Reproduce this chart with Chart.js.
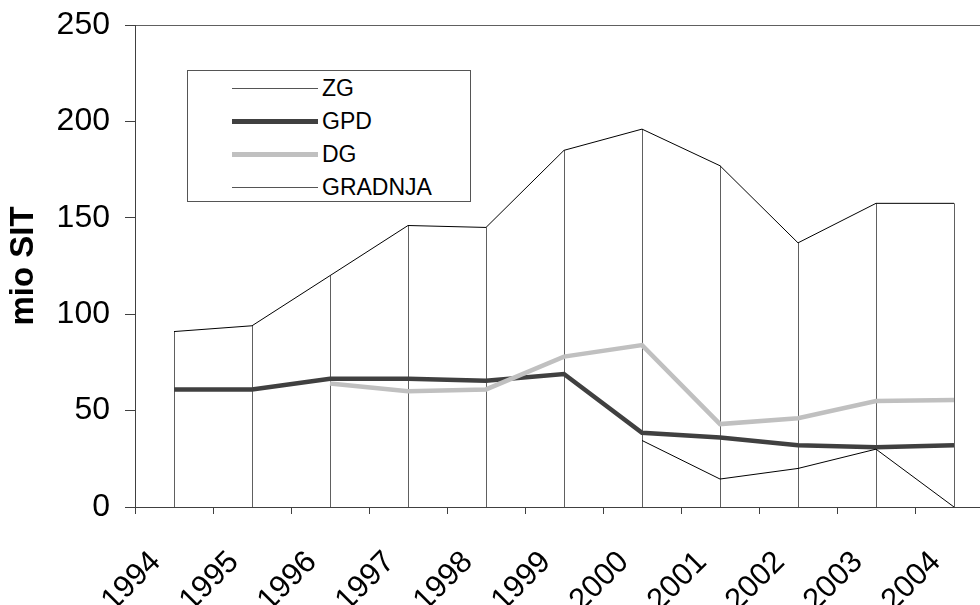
<!DOCTYPE html>
<html>
<head>
<meta charset="utf-8">
<script src="https://cdn.jsdelivr.net/npm/chart.js@4.4.1/dist/chart.umd.min.js"></script>
<style>
    html, body { margin: 0; padding: 0; background: #fff; overflow: hidden; }
    #wrap { position: relative; width: 1000px; height: 605px; }
    #legend {
        position: absolute; left: 187px; top: 70px; width: 284px; height: 132px;
        box-sizing: border-box; border: 1px solid #555; background: #fff;
        font-family: "Liberation Sans", Arial, sans-serif; font-size: 23px; color: #000;
    }
    #legend .row { position: absolute; left: 44px; height: 26px; display: flex; align-items: center; }
    #legend .swatch { width: 86px; margin-right: 4px; }
</style>
</head>
<body>
<div id="wrap">
    <canvas id="chart" width="1000" height="605"></canvas>
    <div id="legend"></div>
</div>
<script>
// Yearly values, mio SIT
const YEARS = ['1994', '1995', '1996', '1997', '1998', '1999', '2000', '2001', '2002', '2003', '2004'];
const ZG = [91, 94, 120, 146, 145, 185, 196, 177, 137, 157.5, 157.5];
const GPD = [61, 61, 66.5, 66.5, 65.5, 69, 38.5, 36, 32, 31, 32];
const DG = [null, null, 64, 60, 61, 78, 84, 43, 46, 55, 55.5];
const GRADNJA = [null, null, null, null, null, null, 34.5, 14.5, 20, 30, 0];

const Y_TICKS = [0, 50, 100, 150, 200, 250];

const FONT = '"Liberation Sans", Arial, sans-serif';
const AXIS_COLOR = '#404040';

// Vertical drop lines from the highest value of each year down to zero
const dropLines = {
    id: 'dropLines',
    beforeDatasetsDraw(chart) {
        const { ctx, scales: { x, y } } = chart;
        ctx.save();
        ctx.strokeStyle = '#606060';
        ctx.lineWidth = 1;
        YEARS.forEach((_, i) => {
            const vals = chart.data.datasets.map(d => d.data[i]).filter(v => v !== null);
            const top = Math.max(...vals);
            const px = Math.round(x.getPixelForValue(i)) + 0.5;
            ctx.beginPath();
            ctx.moveTo(px, y.getPixelForValue(top));
            ctx.lineTo(px, y.getPixelForValue(0));
            ctx.stroke();
        });
        ctx.restore();
    },
};

// Thin frame round the plot area
const plotFrame = {
    id: 'plotFrame',
    beforeDraw(chart) {
        const { ctx, chartArea: a } = chart;
        ctx.save();
        ctx.strokeStyle = '#606060';
        ctx.lineWidth = 1;
        ctx.strokeRect(a.left + 0.5, a.top + 0.5, a.right - a.left, a.bottom - a.top);
        ctx.restore();
    },
};

const chart = new Chart(document.getElementById('chart'), {
    type: 'line',
    data: {
        labels: YEARS,
        datasets: [
            { label: 'ZG', data: ZG, borderColor: '#000000', borderWidth: 1, order: 3 },
            { label: 'GPD', data: GPD, borderColor: '#404040', borderWidth: 4.5, order: 2 },
            { label: 'DG', data: DG, borderColor: '#c0c0c0', borderWidth: 4.5, order: 1 },
            { label: 'GRADNJA', data: GRADNJA, borderColor: '#000000', borderWidth: 1, order: 0 },
        ],
    },
    options: {
        responsive: false,
        animation: false,
        events: [],
        elements: {
            point: { radius: 0 },
            line: { tension: 0, borderCapStyle: 'butt', borderJoinStyle: 'miter', fill: false },
        },
        layout: { padding: { top: 25, right: 7, left: 0, bottom: 0 } },
        plugins: {
            legend: { display: false },
            tooltip: { enabled: false },
        },
        scales: {
            x: {
                offset: true,
                grid: {
                    offset: true,
                    drawOnChartArea: false,
                    drawTicks: true,
                    tickLength: 7,
                    color: AXIS_COLOR,
                },
                border: { color: AXIS_COLOR, width: 1 },
                ticks: {
                    color: '#000',
                    font: { family: FONT, size: 31 },
                    minRotation: 45,
                    maxRotation: 45,
                    autoSkip: false,
                    padding: 30,
                    labelOffset: -18,
                },
                afterFit(scale) {
                    scale.height = 98;
                    scale.paddingLeft = 0;
                    scale.paddingRight = 0;
                },
            },
            y: {
                min: 0,
                max: 250,
                afterBuildTicks(scale) { scale.ticks = Y_TICKS.map(v => ({ value: v })); },
                grid: {
                    drawOnChartArea: false,
                    drawTicks: true,
                    tickLength: 10,
                    color: AXIS_COLOR,
                },
                border: { color: AXIS_COLOR, width: 1 },
                ticks: {
                    color: '#000',
                    font: { family: FONT, size: 32 },
                    padding: 15,
                },
                title: {
                    display: true,
                    text: 'mio SIT',
                    color: '#000',
                    font: { family: FONT, size: 33, weight: 'bold' },
                    padding: { top: 4, bottom: 0 },
                },
                afterFit(scale) {
                    scale.width = 135;
                    scale.paddingTop = 0;
                    scale.paddingBottom = 0;
                },
            },
        },
    },
    plugins: [plotFrame, dropLines],
});

// Legend box built from the dataset styles
const legend = document.getElementById('legend');
chart.data.datasets.forEach((ds, i) => {
    const row = document.createElement('div');
    row.className = 'row';
    row.style.top = (17 + 33 * i - 13) + 'px';
    const sw = document.createElement('div');
    sw.className = 'swatch';
    sw.style.height = Math.max(1, Math.round(ds.borderWidth)) + 'px';
    sw.style.background = ds.borderWidth > 1 ? ds.borderColor : '#555';
    const txt = document.createElement('span');
    txt.textContent = ds.label;
    row.appendChild(sw);
    row.appendChild(txt);
    legend.appendChild(row);
});
</script>
</body>
</html>
